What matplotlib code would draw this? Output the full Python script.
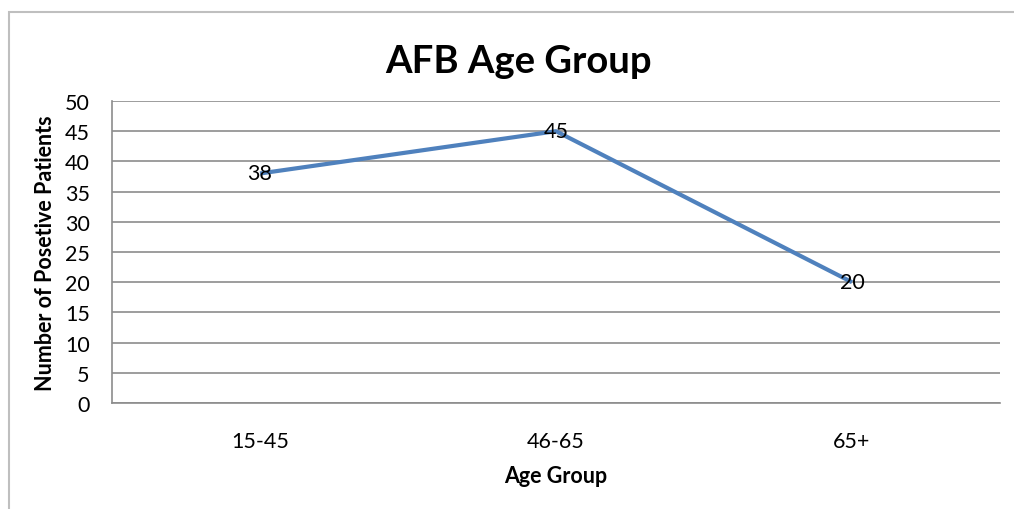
import matplotlib.pyplot as plt
from matplotlib.patches import Rectangle

# Data
age_groups = ["15-45", "46-65", "65+"]
patients = [38, 45, 20]
y_ticks = list(range(0, 55, 5))

plt.rcParams['font.family'] = ['Lato', 'DejaVu Sans']

fig = plt.figure(figsize=(10.14, 5.10), dpi=100)
fig.patch.set_facecolor("#FFFFFF")

# Outer chart border (partially cut off at right / bottom)
fig.patches.append(Rectangle((9 / 1014, -0.05), 1.2, 1 - 13 / 510 + 0.05,
                             transform=fig.transFigure, fill=False,
                             edgecolor="#BFBFBF", linewidth=1.5))

ax = fig.add_axes([112 / 1014, 1 - 404 / 510, 888 / 1014, 302 / 510])
x = list(range(len(age_groups)))
ax.plot(x, patients, color="#4F81BD", linewidth=3, solid_capstyle="butt", zorder=3)

for xi, v in zip(x, patients):
    ax.text(xi, v, str(v), ha="center", va="center", fontsize=15.5, color="#000000", zorder=4)

ax.set_xlim(-0.5, 2.5)
ax.set_ylim(0, 50)
ax.set_yticks(y_ticks)
ax.set_xticks(x)
ax.set_xticklabels(age_groups)
ax.tick_params(axis="both", length=0, labelsize=15.5, colors="#000000")
ax.tick_params(axis="x", pad=20)
ax.tick_params(axis="y", pad=16)
ax.grid(axis="y", color="#8C8C8C", linewidth=1.2)
ax.set_axisbelow(True)

for side in ["top", "right"]:
    ax.spines[side].set_visible(False)
for side in ["left", "bottom"]:
    ax.spines[side].set_color("#8C8C8C")
    ax.spines[side].set_linewidth(1.2)

ax.set_xlabel("Age Group", fontsize=15.5, fontweight="bold", labelpad=10)
ax.set_ylabel("Number of Posetive Patients", fontsize=15.5, fontweight="bold", labelpad=6)
fig.text(519 / 1014, 1 - 62 / 510, "AFB Age Group", ha="center", va="center",
         fontsize=27.5, fontweight="bold")

plt.savefig("out.png", dpi=100)
